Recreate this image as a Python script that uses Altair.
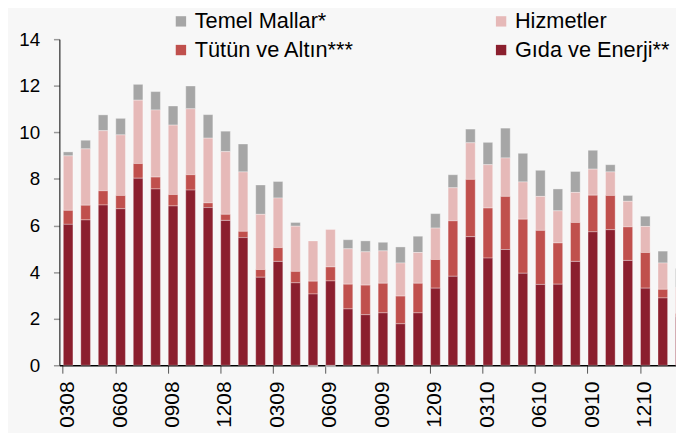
import altair as alt
import pandas as pd

months = ["0308","0408","0508","0608","0708","0808","0908","1008","1108","1208","0109","0209",
          "0309","0409","0509","0609","0709","0809","0909","1009","1109","1209","0110","0210",
          "0310","0410","0510","0610","0710","0810","0910","1010","1110","1210","0111","0211"]

gida = [6.05,6.24,6.88,6.72,8.03,7.57,6.84,7.52,6.77,6.22,5.48,3.78,4.46,3.54,3.06,3.62,2.42,2.17,
        2.25,1.78,2.25,3.31,3.82,5.52,4.60,4.97,3.95,3.47,3.48,4.46,5.73,5.82,4.50,3.31,2.89,2.08]
tutun = [0.60,0.63,0.61,0.57,0.63,0.51,0.49,0.66,0.20,0.26,0.27,0.33,0.59,0.49,0.55,0.60,1.06,1.27,
         1.27,1.19,1.27,1.23,2.38,2.46,2.15,2.28,2.32,2.32,1.77,1.67,1.57,1.47,1.44,1.53,0.37,0.14]
hizmet = [2.34,2.42,2.58,2.60,2.72,2.88,2.98,2.83,2.78,2.69,2.55,2.37,2.13,1.94,1.73,1.61,1.52,1.43,
          1.39,1.42,1.32,1.35,1.42,1.57,1.86,1.65,1.60,1.46,1.38,1.29,1.12,1.01,1.10,1.12,1.13,1.12]
temel = [0.17,0.37,0.68,0.71,0.68,0.79,0.82,0.98,1.01,0.88,1.20,1.26,0.71,0.16,-0.08,-0.08,0.39,0.47,
         0.37,0.69,0.70,0.62,0.56,0.59,0.96,1.28,1.23,1.12,0.94,0.90,0.81,0.31,0.25,0.44,0.51,0.81]

# legend is filled column by column
series_names = ["Temel Mallar*", "Tütün ve Altın***", "Hizmetler", "Gıda ve Enerji**"]
series_colors = ["#A6A6A6", "#C0504D", "#E6B9B8", "#8B1F2E"]
stack_rank = {"Gıda ve Enerji**": 0, "Tütün ve Altın***": 1, "Hizmetler": 2, "Temel Mallar*": 3}
label_months = months[0:34:3]

series_values = {
    "Temel Mallar*": temel,
    "Hizmetler": hizmet,
    "Tütün ve Altın***": tutun,
    "Gıda ve Enerji**": gida,
}

rows = []
for name, vals in series_values.items():
    for m, v in zip(months, vals):
        rows.append({"month": m, "series": name, "value": v, "rank": stack_rank[name]})
df = pd.DataFrame(rows)

step = 17.7
chart = alt.Chart(df).mark_bar(
    stroke="#ffffff", strokeWidth=0.6, strokeOpacity=0.55
).encode(
    x=alt.X("month:N", sort=months, title=None,
            scale=alt.Scale(range=[0, step * len(months)], paddingInner=0.45, paddingOuter=0.225),
            axis=alt.Axis(values=label_months, labelAngle=270, labelFontSize=21,
                          labelFont="Liberation Sans", labelColor="#000000",
                          bandPosition=0, tickSize=8, tickColor="#555555", tickWidth=1,
                          domainColor="#000000", domainWidth=1.5, labelPadding=8)),
    y=alt.Y("value:Q", title=None,
            scale=alt.Scale(domain=[0, 14], nice=False),
            axis=alt.Axis(values=list(range(0, 15, 2)), labelFontSize=19,
                          labelFont="Liberation Sans", labelColor="#000000",
                          tickSize=6, tickColor="#999999", tickWidth=1.5,
                          domainColor="#000000", domainWidth=1, labelPadding=14, grid=False)),
    color=alt.Color("series:N", title=None,
                    scale=alt.Scale(domain=series_names, range=series_colors),
                    legend=alt.Legend(orient="none", legendX=112, legendY=-29, columns=2,
                                      columnPadding=137, rowPadding=7, symbolType="square",
                                      symbolSize=110, symbolStrokeWidth=0, labelOffset=3,
                                      labelFontSize=22, labelFont="Liberation Sans",
                                      labelColor="#000000", labelLimit=0, padding=0)),
    order=alt.Order("rank:Q", sort="ascending"),
).properties(
    width=624, height=330,
    autosize=alt.AutoSizeParams(type="none"),
    padding={"left": 52, "top": 29, "right": 0, "bottom": 66},
    background="#F7F7F7",
).configure_view(stroke=None)

chart.save("out.html", embed_options={"renderer": "svg", "actions": False})
